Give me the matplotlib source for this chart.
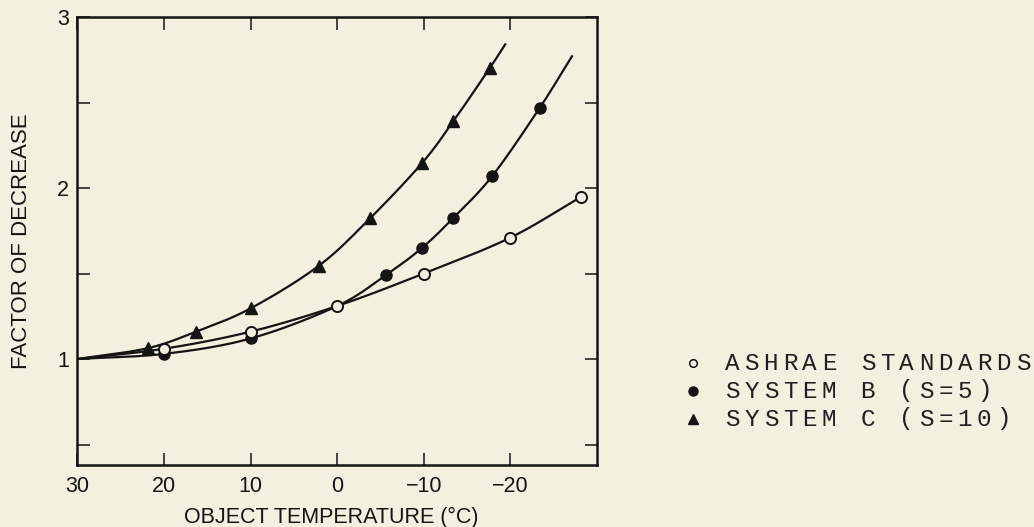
import numpy as np
import matplotlib
matplotlib.use('Agg')
import matplotlib.pyplot as plt

# values
# ASHRAE standards (open circles)
ashrae_t = [20, 10, 0, -10, -20, -28.2]
ashrae_v = [1.06, 1.16, 1.31, 1.50, 1.71, 1.95]

# system B, S=5 (filled circles)
sys_b_t = [20, 10, -5.6, -9.8, -13.4, -17.9, -23.4]
sys_b_v = [1.03, 1.12, 1.49, 1.65, 1.825, 2.07, 2.47]
sys_b_knot = (0, 1.31)        # curve passes here without a marker
sys_b_end = (-27.1, 2.77)     # where the drawn curve stops

# system C, S=10 (triangles)
sys_c_t = [21.9, 16.3, 10.0, 2.1, -3.8, -9.8, -13.4, -17.6]
sys_c_v = [1.063, 1.16, 1.296, 1.546, 1.823, 2.146, 2.39, 2.70]
sys_c_end = (-19.4, 2.84)

start = (30, 1.0)   # all curves start here

legend_labels = ['ASHRAE STANDARDS', 'SYSTEM B (S=5)', 'SYSTEM C (S=10)']
xticks = [30, 20, 10, 0, -10, -20]
yticks = [1, 2, 3]

bg = '#f3f0df'
ink = '#141414'


def smooth(xs, ys, n=30):
    # catmull-rom through the read points, only to draw the curve
    p = np.column_stack([xs, ys]).astype(float)
    p = np.vstack([2 * p[0] - p[1], p, 2 * p[-1] - p[-2]])
    t = np.linspace(0, 1, n)[:, None]
    out = []
    for i in range(len(p) - 3):
        p0, p1, p2, p3 = p[i], p[i + 1], p[i + 2], p[i + 3]
        seg = 0.5 * ((2 * p1) + (-p0 + p2) * t + (2 * p0 - 5 * p1 + 4 * p2 - p3) * t ** 2
                     + (-p0 + 3 * p1 - 3 * p2 + p3) * t ** 3)
        out.append(seg if i == 0 else seg[1:])
    out = np.vstack(out)
    return out[:, 0], out[:, 1]


fig = plt.figure(figsize=(10.34, 5.27), dpi=100, facecolor=bg)
ax = fig.add_axes([0.0748, 0.1176, 0.5026, 0.8501])
ax.set_facecolor(bg)

# curves
xa, ya = smooth([start[0]] + ashrae_t, [start[1]] + ashrae_v)
ax.plot(xa, ya, color=ink, lw=1.6, zorder=2)

bt = [start[0]] + sys_b_t[:2] + [sys_b_knot[0]] + sys_b_t[2:] + [sys_b_end[0]]
bv = [start[1]] + sys_b_v[:2] + [sys_b_knot[1]] + sys_b_v[2:] + [sys_b_end[1]]
xb, yb = smooth(bt, bv)
ax.plot(xb, yb, color=ink, lw=1.6, zorder=2)

xc, yc = smooth([start[0]] + sys_c_t + [sys_c_end[0]], [start[1]] + sys_c_v + [sys_c_end[1]])
ax.plot(xc, yc, color=ink, lw=1.6, zorder=2)

# markers
ax.plot(sys_b_t, sys_b_v, 'o', ms=8, mfc=ink, mec=ink, ls='none', zorder=3)
ax.plot(sys_c_t, sys_c_v, '^', ms=8.5, mfc=ink, mec=ink, ls='none', zorder=3)
ax.plot(ashrae_t, ashrae_v, 'o', ms=8, mfc=bg, mec=ink, mew=1.4, ls='none', zorder=4)

ax.set_xlim(30, -30)
ax.set_ylim(0.38, 3.0)
ax.set_xticks(xticks)
ax.set_xticklabels(['30', '20', '10', '0', '\u221210', '\u221220'])
ax.set_xticks([-30], minor=True)
ax.set_yticks(yticks)
ax.set_yticks([0.5, 1.5, 2.5], minor=True)

for lab in ax.get_xticklabels() + ax.get_yticklabels():
    lab.set_fontfamily('Liberation Sans')
    lab.set_fontsize(15.5)
    lab.set_color(ink)

ax.tick_params(which='both', direction='in', length=9, width=1.1, color=ink,
               top=True, right=True)
ax.tick_params(axis='x', which='minor', length=0)
ax.tick_params(axis='x', pad=8)
ax.tick_params(axis='y', pad=6)
for s in ax.spines.values():
    s.set_linewidth(1.8)
    s.set_color(ink)

ax.set_xlabel('OBJECT TEMPERATURE (\u00b0C)', family='Liberation Sans', size=15.5,
              color=ink, va='top')
ax.xaxis.set_label_coords(0.488, -0.093)
ax.set_ylabel('FACTOR OF DECREASE', family='Liberation Sans', size=16,
              color=ink, labelpad=18)

# typewriter legend at the right
lax = fig.add_axes([0, 0, 1, 1])
lax.set_xlim(0, 1034)
lax.set_ylim(527, 0)
lax.axis('off')
rows = [363, 391, 419]
styles = [dict(marker='o', ms=5.5, mfc=bg, mec=ink, mew=1.1),
          dict(marker='o', ms=6.5, mfc=ink, mec=ink),
          dict(marker='^', ms=6.5, mfc=ink, mec=ink)]
pitch = 19.4
for y, txt, st in zip(rows, legend_labels, styles):
    lax.plot([693], [y], ls='none', **st)
    for i, ch in enumerate(txt):
        if ch == ' ':
            continue
        lax.text(732 + i * pitch, y, ch, family='Liberation Mono', fontsize=17.5,
                 ha='center', va='center', color='#202020')

fig.savefig('out.png', dpi=100, facecolor=bg)
